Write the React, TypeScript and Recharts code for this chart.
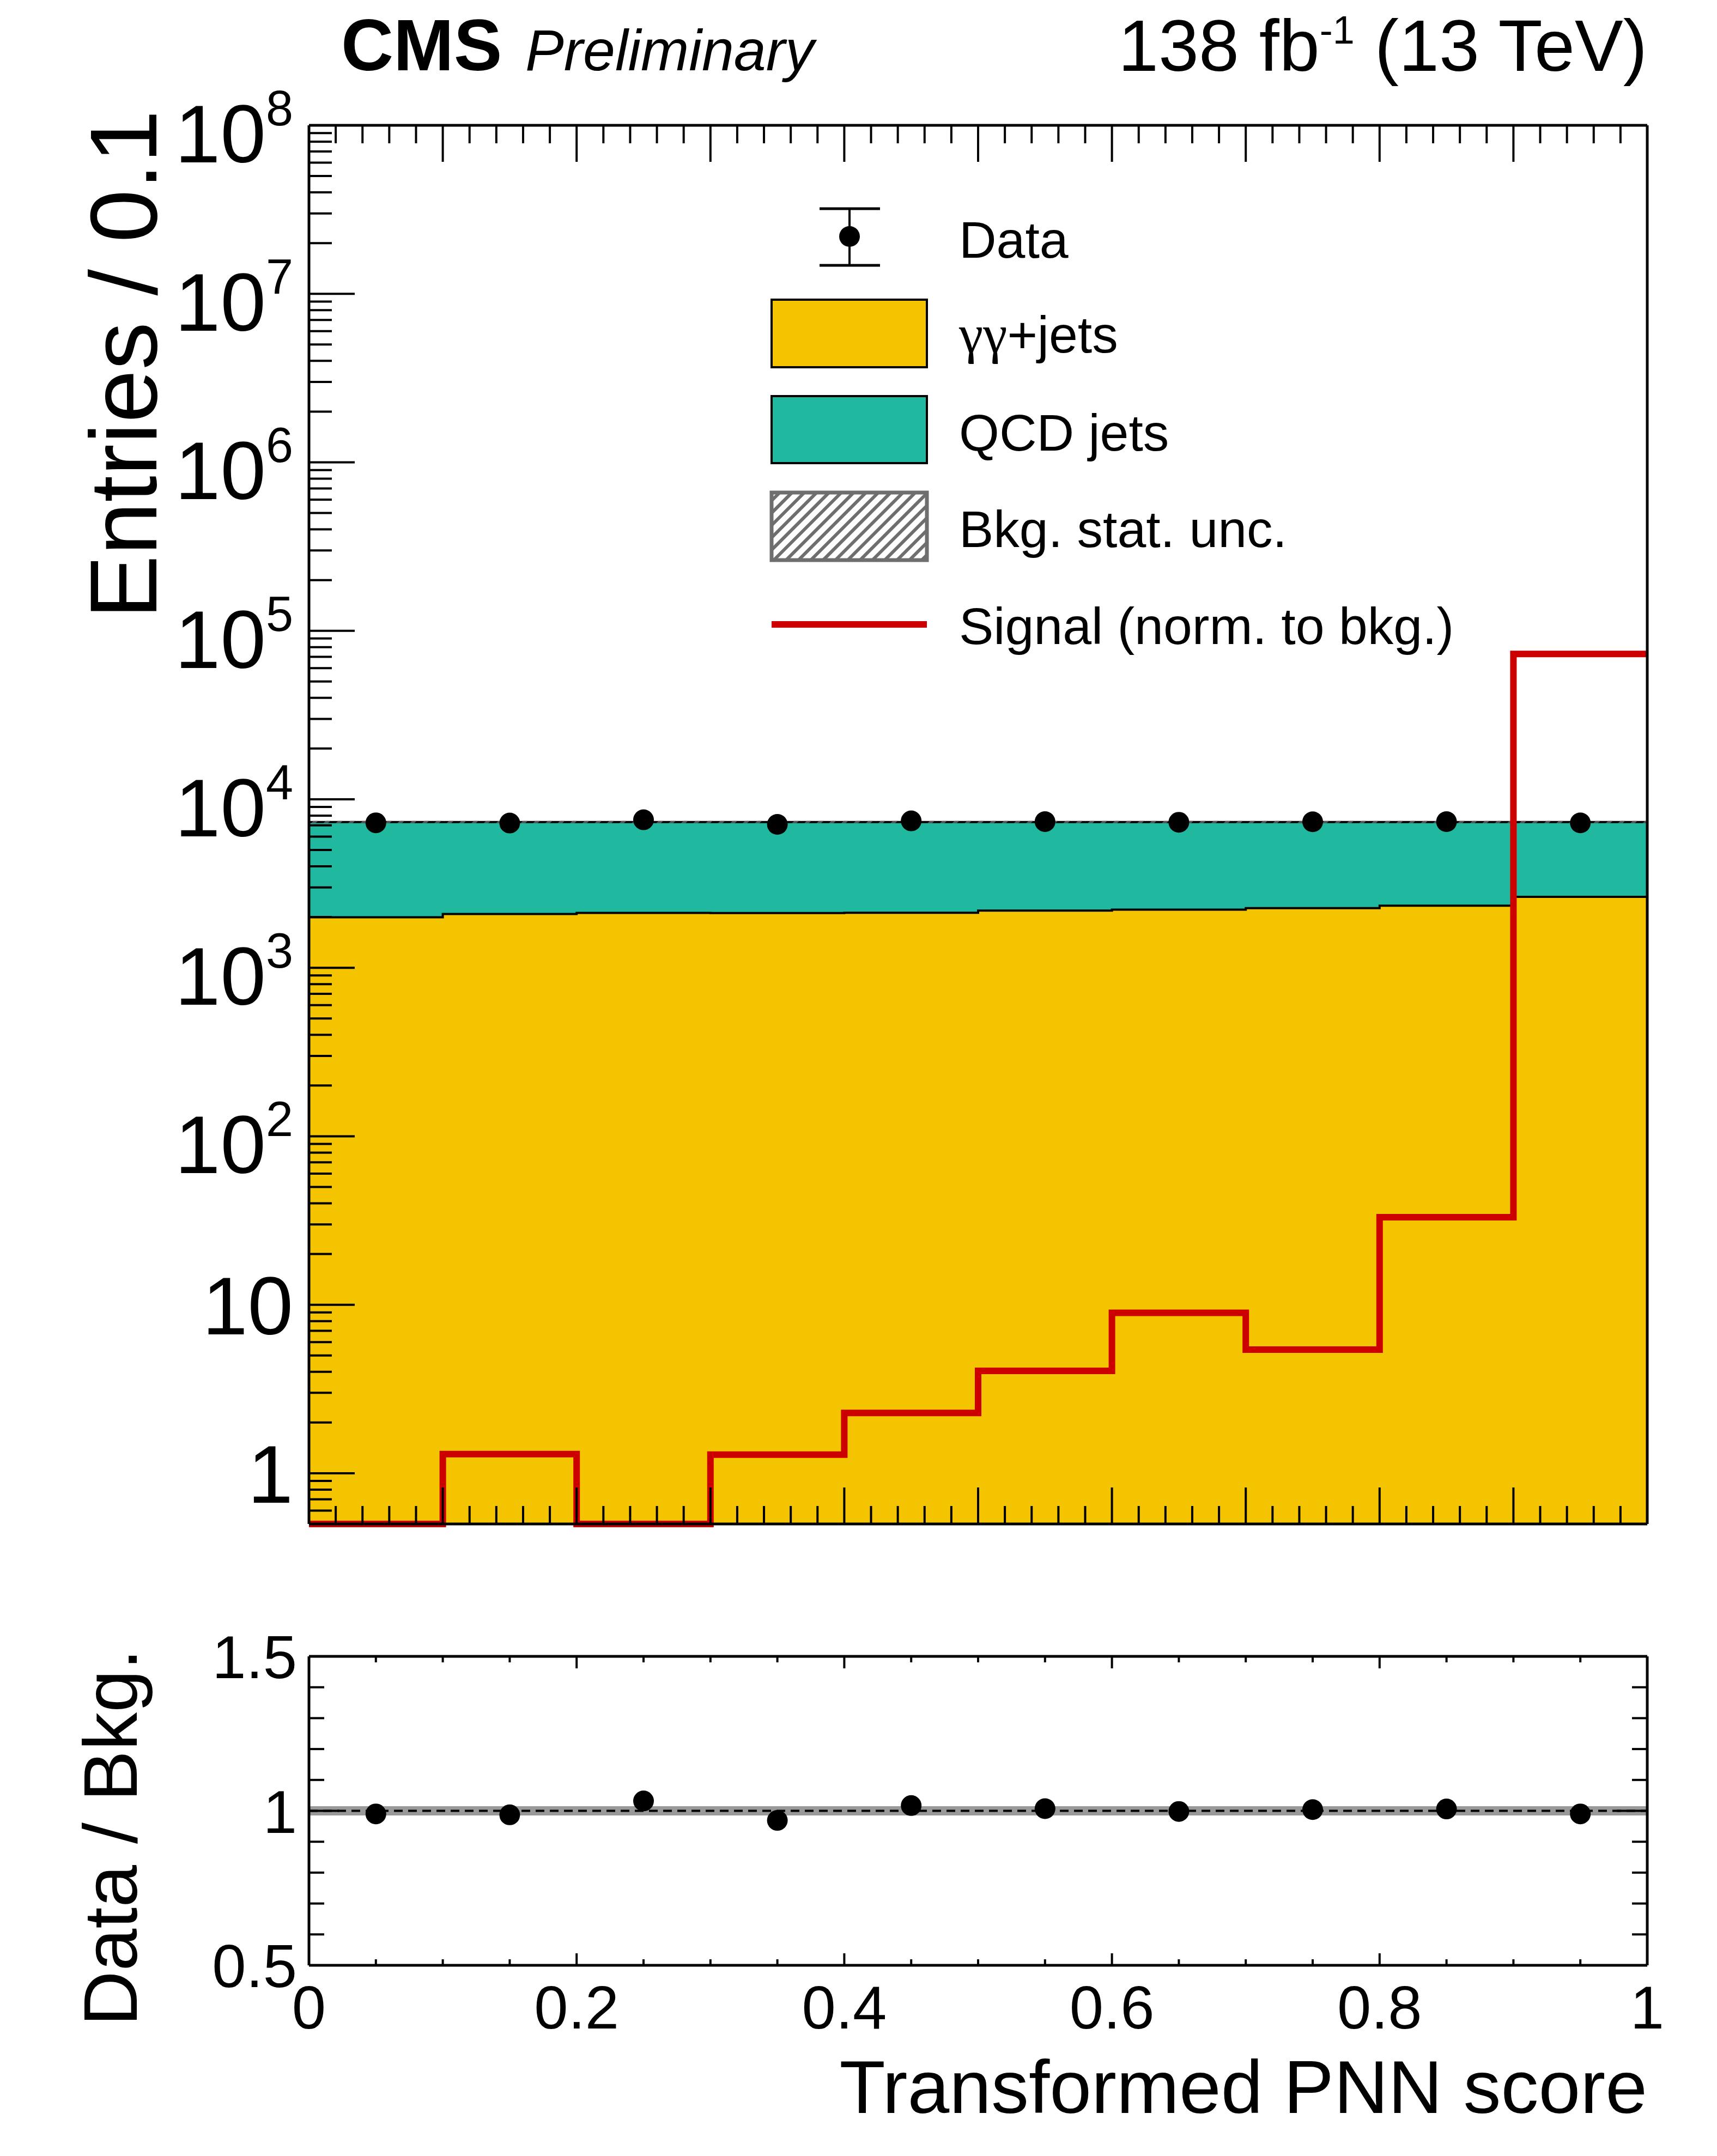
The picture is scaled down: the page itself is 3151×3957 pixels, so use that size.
import React from "react";
import {
  ComposedChart,
  Area,
  Line,
  XAxis,
  YAxis,
  ReferenceLine,
  Legend,
} from "recharts";

const FONT = '"Liberation Sans", Arial, Helvetica, sans-serif';
const SERIF = '"Liberation Serif", "Times New Roman", serif';

// binning of the transformed PNN score
const BIN_EDGES = [0, 0.1, 0.2, 0.3, 0.4, 0.5, 0.6, 0.7, 0.8, 0.9, 1.0];
const BIN_CENTERS = [0.05, 0.15, 0.25, 0.35, 0.45, 0.55, 0.65, 0.75, 0.85, 0.95];

// entries per bin
const GG_JETS = [1995, 2087, 2118, 2112, 2120, 2183, 2215, 2260, 2335, 2635];
const QCD_JETS = [5325, 5233, 5202, 5208, 5200, 5137, 5105, 5060, 4985, 4685];
const BKG_STAT_UNC = [0.015, 0.015, 0.015, 0.015, 0.015, 0.015, 0.015, 0.015, 0.015, 0.015]; // relative
const DATA = [7250, 7225, 7555, 7095, 7445, 7370, 7305, 7350, 7365, 7245];
const SIGNAL = [0, 1.3, 0, 1.29, 2.28, 4.05, 8.96, 5.42, 33.1, 72900];
const DATA_OVER_BKG = [0.99, 0.987, 1.032, 0.969, 1.017, 1.007, 0.998, 1.004, 1.006, 0.99];

// tick labels
const X_LABELS = [0, 0.2, 0.4, 0.6, 0.8, 1];
const Y_DECADES = [1, 10, 1e2, 1e3, 1e4, 1e5, 1e6, 1e7, 1e8];
const RATIO_Y_LABELS = [0.5, 1, 1.5];

const LEGEND_ITEMS = ["Data", "γγ+jets", "QCD jets", "Bkg. stat. unc.", "Signal (norm. to bkg.)"];

const Y_MIN = 0.5;
const Y_MAX = 1e8;

const GG_COLOR = "#F5C400";
const QCD_COLOR = "#21B8A0";
const SIG_COLOR = "#CC0000";

// ---- tables for recharts ----
const N_BINS = BIN_CENTERS.length;

// one row per bin edge, last edge repeats the last bin (step histograms)
const stepRows = BIN_EDGES.map((x, i) => {
  const j = Math.min(i, N_BINS - 1);
  const total = GG_JETS[j] + QCD_JETS[j];
  const u = BKG_STAT_UNC[j];
  return {
    x,
    gg: GG_JETS[j],
    total,
    band: [total * (1 - u), total * (1 + u)],
    // empty signal bins sit on the axis floor
    signal: Math.max(SIGNAL[j], Y_MIN),
    ratioBand: [1 - u, 1 + u],
  };
});

const pointRows = BIN_CENTERS.map((x, i) => ({
  x,
  data: DATA[i],
  ratio: DATA_OVER_BKG[i],
}));

// ---- ticks ----
const near = (a: number, b: number) => Math.abs(a - b) < 1e-6;
const isMultiple = (v: number, step: number) => near(v / step, Math.round(v / step));

const X_TICKS_MAIN: number[] = [];
for (let i = 0; i <= 50; i++) X_TICKS_MAIN.push(+(i * 0.02).toFixed(2));

const X_TICKS_RATIO: number[] = [];
for (let i = 0; i <= 20; i++) X_TICKS_RATIO.push(+(i * 0.05).toFixed(2));

const Y_TICKS_RATIO: number[] = [];
for (let i = 0; i <= 10; i++) Y_TICKS_RATIO.push(+(0.5 + i * 0.1).toFixed(1));

const LOG_TICKS: number[] = [];
for (let k = -1; k <= 7; k++) {
  for (let m = 1; m <= 9; m++) {
    const v = +(m * Math.pow(10, k)).toPrecision(6);
    if (v >= Y_MIN - 1e-9) LOG_TICKS.push(v);
  }
}
LOG_TICKS.push(Y_MAX);

const frame = { stroke: "#000", strokeWidth: 5 };
const tickStroke = { stroke: "#000", strokeWidth: 4 };

const fmtX = (v: number) => (near(v, 0) ? "0" : near(v, 1) ? "1" : v.toFixed(1));
const fmtR = (v: number) => (near(v, 1) ? "1" : v.toFixed(1));

function mainXTick(side: "top" | "bottom") {
  return (p: any) => {
    const v = p.payload.value;
    const len = isMultiple(v, 0.1) ? 67 : 33;
    const y2 = side === "bottom" ? p.y - len : p.y + len;
    return <line x1={p.x} x2={p.x} y1={p.y} y2={y2} {...tickStroke} />;
  };
}

function mainYTick(side: "left" | "right") {
  return (p: any) => {
    const v = p.payload.value;
    const lg = Math.log10(v);
    const k = Math.round(lg);
    const major = near(lg, k) && Y_DECADES.some((d) => near(d, v));
    const len = major ? 84 : 42;
    const dir = side === "left" ? 1 : -1;
    let label = null;
    if (side === "left" && major) {
      label =
        k >= 2 ? (
          <text x={p.x - 29} y={p.y + 68} textAnchor="end" fontFamily={FONT} fontSize={150} fill="#000">
            10
            <tspan fontSize={90} dy={-68}>
              {k}
            </tspan>
          </text>
        ) : (
          <text x={p.x - 29} y={p.y + 54} textAnchor="end" fontFamily={FONT} fontSize={150} fill="#000">
            {k === 0 ? "1" : "10"}
          </text>
        );
    }
    return (
      <g>
        <line x1={p.x} x2={p.x + dir * len} y1={p.y} y2={p.y} {...tickStroke} />
        {label}
      </g>
    );
  };
}

function ratioXTick(side: "top" | "bottom") {
  return (p: any) => {
    const v = p.payload.value;
    const major = X_LABELS.some((l) => near(l, v));
    const len = major ? 22 : 11;
    const y2 = side === "bottom" ? p.y - len : p.y + len;
    return (
      <g>
        <line x1={p.x} x2={p.x} y1={p.y} y2={y2} {...tickStroke} />
        {side === "bottom" && major && (
          <text x={p.x} y={p.y + 116} textAnchor="middle" fontFamily={FONT} fontSize={112} fill="#000">
            {fmtX(v)}
          </text>
        )}
      </g>
    );
  };
}

function ratioYTick(side: "left" | "right") {
  return (p: any) => {
    const v = p.payload.value;
    const major = RATIO_Y_LABELS.some((l) => near(l, v));
    const len = major ? 56 : 28;
    const dir = side === "left" ? 1 : -1;
    return (
      <g>
        <line x1={p.x} x2={p.x + dir * len} y1={p.y} y2={p.y} {...tickStroke} />
        {side === "left" && major && (
          <text x={p.x - 22} y={p.y + 40} textAnchor="end" fontFamily={FONT} fontSize={112} fill="#000">
            {fmtR(v)}
          </text>
        )}
      </g>
    );
  };
}

const renderDot = (p: any) => <circle key={`d${p.index}`} cx={p.cx} cy={p.cy} r={19} fill="#000" />;

function LegendBox() {
  const tx = 1760;
  const ts = { fontFamily: FONT, fontSize: 95, fill: "#000" };
  return (
    <svg width={1500} height={950} style={{ display: "block", overflow: "visible" }}>
      <g transform="translate(-1350 -330)">
        <line x1={1559} x2={1559} y1={383} y2={487} stroke="#000" strokeWidth={4} />
        <line x1={1504} x2={1615} y1={383} y2={383} stroke="#000" strokeWidth={5} />
        <line x1={1504} x2={1615} y1={487} y2={487} stroke="#000" strokeWidth={5} />
        <circle cx={1559} cy={434} r={19} fill="#000" />
        <text x={tx} y={473} {...ts}>{LEGEND_ITEMS[0]}</text>

        <rect x={1416} y={550} width={285} height={124} fill={GG_COLOR} stroke="#000" strokeWidth={4} />
        <text x={tx} y={647} {...ts}>
          <tspan fontFamily={SERIF} fontSize={100}>{LEGEND_ITEMS[1].slice(0, 2)}</tspan>
          {LEGEND_ITEMS[1].slice(2)}
        </text>

        <rect x={1416} y={727} width={285} height={123} fill={QCD_COLOR} stroke="#000" strokeWidth={4} />
        <text x={tx} y={827} {...ts}>{LEGEND_ITEMS[2]}</text>

        <rect x={1416} y={904} width={285} height={124} fill="url(#legendHatch)" stroke="#6e6e6e" strokeWidth={7} />
        <text x={tx} y={1004} {...ts}>{LEGEND_ITEMS[3]}</text>

        <line x1={1416} x2={1701} y1={1146} y2={1146} stroke={SIG_COLOR} strokeWidth={12} />
        <text x={tx} y={1182} {...ts}>{LEGEND_ITEMS[4]}</text>
      </g>
    </svg>
  );
}

export default function App() {
  return (
    <div
      style={{
        position: "absolute",
        left: 0,
        top: 0,
        width: 3151,
        height: 3957,
        background: "#fff",
        overflow: "hidden",
      }}
    >
      <svg width={0} height={0} style={{ position: "absolute" }}>
        <defs>
          <pattern id="bkgHatch" patternUnits="userSpaceOnUse" width={16} height={16} patternTransform="rotate(45)">
            <rect x={0} y={0} width={6} height={16} fill="#555" />
          </pattern>
          <pattern id="legendHatch" patternUnits="userSpaceOnUse" width={16} height={16} patternTransform="rotate(45)">
            <rect x={0} y={0} width={16} height={16} fill="#fff" />
            <rect x={0} y={0} width={6} height={16} fill="#6e6e6e" />
          </pattern>
        </defs>
      </svg>

      {/* main panel */}
      <div style={{ position: "absolute", left: 0, top: 0 }}>
        <ComposedChart
          width={3151}
          height={2900}
          data={stepRows}
          margin={{ top: 130, right: 28, bottom: 3, left: 467 }}
        >
          <Area
            dataKey="total"
            type="stepAfter"
            fill={QCD_COLOR}
            fillOpacity={1}
            stroke="#000"
            strokeWidth={4}
            dot={false}
            activeDot={false}
            isAnimationActive={false}
          />
          <Area
            dataKey="gg"
            type="stepAfter"
            fill={GG_COLOR}
            fillOpacity={1}
            stroke="#000"
            strokeWidth={4}
            dot={false}
            activeDot={false}
            isAnimationActive={false}
          />
          <Area
            dataKey="band"
            type="stepAfter"
            fill="url(#bkgHatch)"
            fillOpacity={1}
            stroke="none"
            dot={false}
            activeDot={false}
            isAnimationActive={false}
          />
          <Line
            dataKey="signal"
            type="stepAfter"
            stroke={SIG_COLOR}
            strokeWidth={12}
            dot={false}
            activeDot={false}
            isAnimationActive={false}
          />
          <Line
            data={pointRows}
            dataKey="data"
            stroke="none"
            dot={renderDot}
            activeDot={false}
            isAnimationActive={false}
          />
          <XAxis
            dataKey="x"
            type="number"
            domain={[0, 1]}
            ticks={X_TICKS_MAIN}
            interval={0}
            height={100}
            tickSize={0}
            tickMargin={0}
            tickLine={false}
            axisLine={frame}
            tick={mainXTick("bottom")}
          />
          <XAxis
            xAxisId="top"
            orientation="top"
            dataKey="x"
            type="number"
            domain={[0, 1]}
            ticks={X_TICKS_MAIN}
            interval={0}
            height={100}
            tickSize={0}
            tickMargin={0}
            tickLine={false}
            axisLine={frame}
            tick={mainXTick("top")}
          />
          <YAxis
            type="number"
            scale="log"
            domain={[Y_MIN, Y_MAX]}
            ticks={LOG_TICKS}
            interval={0}
            width={100}
            tickSize={0}
            tickMargin={0}
            tickLine={false}
            axisLine={frame}
            tick={mainYTick("left")}
          />
          <YAxis
            yAxisId="right"
            orientation="right"
            type="number"
            scale="log"
            domain={[Y_MIN, Y_MAX]}
            ticks={LOG_TICKS}
            interval={0}
            width={100}
            tickSize={0}
            tickMargin={0}
            tickLine={false}
            axisLine={frame}
            tick={mainYTick("right")}
          />
          <Legend
            layout="vertical"
            align="center"
            verticalAlign="middle"
            content={() => <LegendBox />}
            wrapperStyle={{ left: 1350, top: 330, width: 1500, height: 950 }}
          />
        </ComposedChart>
      </div>

      {/* ratio panel */}
      <div style={{ position: "absolute", left: 0, top: 2900 }}>
        <ComposedChart
          width={3151}
          height={1057}
          data={stepRows}
          margin={{ top: 40, right: 28, bottom: 250, left: 467 }}
        >
          <Area
            dataKey="ratioBand"
            type="stepAfter"
            fill="#999999"
            fillOpacity={1}
            stroke="none"
            dot={false}
            activeDot={false}
            isAnimationActive={false}
          />
          <ReferenceLine y={1} stroke="#000" strokeWidth={4} strokeDasharray="16 10" />
          <Line
            data={pointRows}
            dataKey="ratio"
            stroke="none"
            dot={renderDot}
            activeDot={false}
            isAnimationActive={false}
          />
          <XAxis
            dataKey="x"
            type="number"
            domain={[0, 1]}
            ticks={X_TICKS_RATIO}
            interval={0}
            height={100}
            tickSize={0}
            tickMargin={0}
            tickLine={false}
            axisLine={frame}
            tick={ratioXTick("bottom")}
          />
          <XAxis
            xAxisId="top"
            orientation="top"
            dataKey="x"
            type="number"
            domain={[0, 1]}
            ticks={X_TICKS_RATIO}
            interval={0}
            height={100}
            tickSize={0}
            tickMargin={0}
            tickLine={false}
            axisLine={frame}
            tick={ratioXTick("top")}
          />
          <YAxis
            type="number"
            domain={[0.5, 1.5]}
            ticks={Y_TICKS_RATIO}
            interval={0}
            width={100}
            tickSize={0}
            tickMargin={0}
            tickLine={false}
            axisLine={frame}
            allowDataOverflow
            tick={ratioYTick("left")}
          />
          <YAxis
            yAxisId="right"
            orientation="right"
            type="number"
            domain={[0.5, 1.5]}
            ticks={Y_TICKS_RATIO}
            interval={0}
            width={100}
            tickSize={0}
            tickMargin={0}
            tickLine={false}
            axisLine={frame}
            allowDataOverflow
            tick={ratioYTick("right")}
          />
        </ComposedChart>
      </div>

      {/* titles */}
      <svg
        width={3151}
        height={3957}
        style={{ position: "absolute", left: 0, top: 0, pointerEvents: "none" }}
      >
        <text x={626} y={129} fontFamily={FONT} fontWeight="bold" fontSize={133} fill="#000">
          CMS
        </text>
        <text x={964} y={129} fontFamily={FONT} fontStyle="italic" fontSize={106} fill="#000">
          Preliminary
        </text>
        <text x={3023} y={130} textAnchor="end" fontFamily={FONT} fontSize={133} fill="#000">
          138 fb
          <tspan fontSize={72} dy={-50}>
            -1
          </tspan>
          <tspan dy={50}> (13 TeV)</tspan>
        </text>
        <text
          transform="translate(287 202) rotate(-90)"
          textAnchor="end"
          fontFamily={FONT}
          fontSize={175}
          fill="#000"
        >
          Entries / 0.1
        </text>
        <text
          transform="translate(251 3026) rotate(-90)"
          textAnchor="end"
          fontFamily={FONT}
          fontSize={140}
          fill="#000"
        >
          Data / Bkg.
        </text>
        <text x={3023} y={3878} textAnchor="end" fontFamily={FONT} fontSize={138} fill="#000">
          Transformed PNN score
        </text>
      </svg>
    </div>
  );
}
